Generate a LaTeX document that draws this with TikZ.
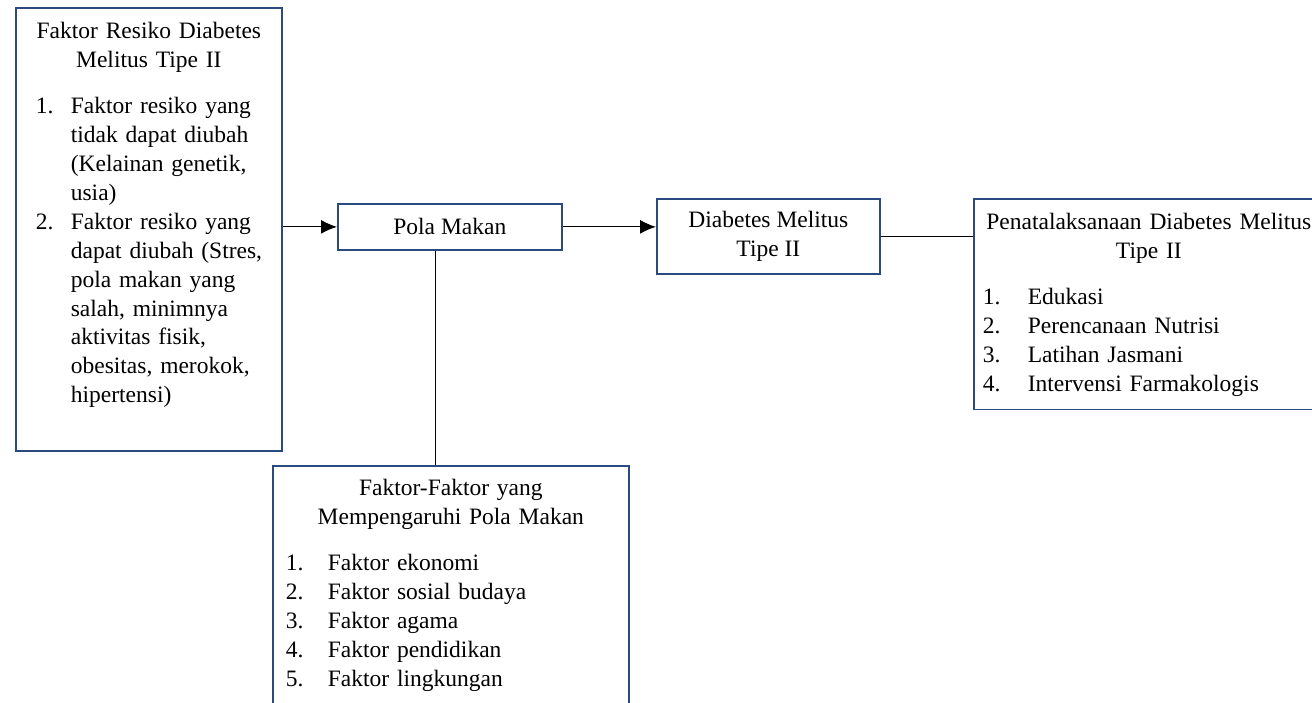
\documentclass[tikz,border=0pt]{standalone}
\usepackage{fontspec}
\setmainfont{Liberation Serif}
\usepackage{tikz}
\usetikzlibrary{positioning, arrows.meta}
\definecolor{boxblue}{HTML}{2B4A80}
\newlength{\itemlead}
\newlength{\itemnum}
\newcommand{\ttl}[1]{\makebox[\hsize][c]{#1}}
\newcommand{\li}[2]{\hspace*{\itemlead}\makebox[\itemnum][l]{#1}#2}
\newcommand{\lc}[1]{\hspace*{\itemlead}\hspace*{\itemnum}#1}
\tikzset{
  box/.style={draw=boxblue, line width=0.85pt, inner sep=0pt, font=\fontsize{11.75pt}{14.45pt}\selectfont},
  listbox/.style n args={3}{box, anchor=north west, align=left, text width=#1,
    execute at begin node={\setlength{\itemlead}{#2}\setlength{\itemnum}{#3}}},
  link/.style={line width=0.6pt},
  arr/.style={link, -{Latex[length=8pt,width=7pt]}}
}

\begin{document}
\begin{tikzpicture}[x=0.5pt, y=-0.5pt]
\path[use as bounding box] (0,0) rectangle (1312,702);
\clip (0,0) rectangle (1312,702);

\node[listbox={133pt}{10pt}{17.5pt}] (risk) at (15,7) {%
\rule{0pt}{15.5pt}\ttl{Faktor Resiko Diabetes}\\
\ttl{Melitus Tipe II}\\[8.55pt]
\li{1.}{Faktor resiko yang}\\
\lc{tidak dapat diubah}\\
\lc{(Kelainan genetik,}\\
\lc{usia)}\\
\li{2.}{Faktor resiko yang}\\
\lc{dapat diubah (Stres,}\\
\lc{pola makan yang}\\
\lc{salah, minimnya}\\
\lc{aktivitas fisik,}\\
\lc{obesitas, merokok,}\\
\lc{hipertensi)\rule[-24pt]{0pt}{0pt}}};

\node[box, minimum width=112pt, minimum height=23pt, anchor=north west] (pola) at (337,203) {Pola Makan};

\node[box, align=center, minimum width=111.5pt, minimum height=37.5pt, anchor=north west] (dm) at (656,198) {Diabetes Melitus\\Tipe II};

\node[listbox={175pt}{4.5pt}{22.5pt}] (tata) at (973,198) {%
\rule{0pt}{15.5pt}\ttl{Penatalaksanaan Diabetes Melitus}\\
\ttl{Tipe II}\\[8.55pt]
\li{1.}{Edukasi}\\
\li{2.}{Perencanaan Nutrisi}\\
\li{3.}{Latihan Jasmani}\\
\li{4.}{Intervensi Farmakologis\rule[-9pt]{0pt}{0pt}}};

\node[listbox={178pt}{6.5pt}{21pt}] (faktor) at (272,465) {%
\rule{0pt}{15pt}\ttl{Faktor-Faktor yang}\\
\ttl{Mempengaruhi Pola Makan}\\[8.55pt]
\li{1.}{Faktor ekonomi}\\
\li{2.}{Faktor sosial budaya}\\
\li{3.}{Faktor agama}\\
\li{4.}{Faktor pendidikan}\\
\li{5.}{Faktor lingkungan\rule[-30pt]{0pt}{0pt}}};

\draw[arr] (risk.east |- pola.west) -- (pola.west);
\draw[arr] (pola.east) -- (pola.east -| dm.west);
\draw[link] (dm.east) -- (dm.east -| tata.west);
\draw[link] ([xshift=-7pt]pola.south) -- ([xshift=-7pt]pola.south |- faktor.north);

\end{tikzpicture}
\end{document}
